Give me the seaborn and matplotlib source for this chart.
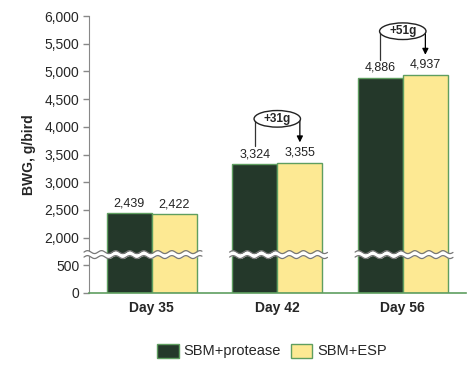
import numpy as np
import pandas as pd
import matplotlib
matplotlib.use("Agg")
import matplotlib.pyplot as plt
import seaborn as sns
from matplotlib.patches import Ellipse, Patch
from matplotlib.ticker import FuncFormatter

# =========================
# DATA
# =========================
days = ["Day 35", "Day 42", "Day 56"]
protease = [2439, 3324, 4886]
esp = [2422, 3355, 4937]
treatments = ["SBM+protease", "SBM+ESP"]
annotate_days = ["Day 42", "Day 56"]
y_ticks = [0, 500, 2000, 2500, 3000, 3500, 4000, 4500, 5000, 5500, 6000]

df = pd.DataFrame({
    "day": days * 2,
    "treatment": [treatments[0]] * 3 + [treatments[1]] * 3,
    "bwg": protease + esp,
})

dark = "#24382a"
yellow = "#fde993"
edge = "#5f9e60"

# =========================
# BROKEN AXIS SCALE (0-500 | 2000-6000)
# =========================
def fwd(v):
    v = np.asarray(v, dtype=float)
    return np.where(v <= 500, v / 500,
                    np.where(v <= 2000, 1 + (v - 500) / 1500, 2 + (v - 2000) / 500))

def inv(t):
    t = np.asarray(t, dtype=float)
    return np.where(t <= 1, t * 500,
                    np.where(t <= 2, 500 + (t - 1) * 1500, 2000 + (t - 2) * 500))

# =========================
# PLOT
# =========================
sns.set_style("white")
plt.rcParams["font.family"] = ["Liberation Sans", "DejaVu Sans"]

fig = plt.figure(figsize=(4.76, 3.66), dpi=100)
ax = fig.add_axes([0.187, 0.1995, 0.791, 0.7565])
ax.set_yscale("function", functions=(fwd, inv))

sns.barplot(data=df, x="day", y="bwg", hue="treatment", order=days,
            hue_order=treatments, palette=[dark, yellow], saturation=1,
            width=0.72, edgecolor=edge, linewidth=1, ax=ax, legend=False,
            zorder=2)

ax.set_ylim(0, 6000)
ax.set_xlim(-0.5, 2.5)
ax.set_yticks(y_ticks)
ax.yaxis.set_minor_locator(plt.NullLocator())
ax.yaxis.set_major_formatter(FuncFormatter(lambda v, p: f"{v:,.0f}"))
ax.tick_params(axis="y", left=True, length=4, width=1, color="#888888",
               labelsize=10, pad=3)
ax.tick_params(axis="x", bottom=False, labelsize=10, pad=2)
for lbl in ax.get_xticklabels():
    lbl.set_fontweight("bold")

sns.despine(ax=ax)
ax.spines["left"].set_color("#888888")
ax.spines["bottom"].set_color(edge)
ax.spines["bottom"].set_linewidth(1.2)

ax.set_xlabel("")
ax.set_ylabel("BWG, g/bird", fontsize=10, fontweight="bold", labelpad=6)

for cont in ax.containers:
    ax.bar_label(cont, labels=[f"{v:,.0f}" for v in cont.datavalues],
                 padding=3, fontsize=9, color="#222222")

# break marks (wavy white band)
def draw_break(x0, x1):
    xs = np.linspace(x0, x1, 200)
    wave = 80 * np.sin((xs - x0) / 0.112 * 2 * np.pi)
    lo = 1080 - 135 + wave
    hi = 1080 + 135 + wave
    ax.fill_between(xs, lo, hi, color="white", zorder=6, clip_on=False, lw=0)
    ax.plot(xs, lo, color="#777777", lw=0.9, zorder=7, clip_on=False)
    ax.plot(xs, hi, color="#777777", lw=0.9, zorder=7, clip_on=False)

draw_break(-0.54, 0.40)
draw_break(0.62, 1.40)
draw_break(1.62, 2.40)

# difference annotations
for day in annotate_days:
    i = days.index(day)
    a, b = protease[i], esp[i]
    ey = max(a, b) + 790
    xl, xr = i - 0.18, i + 0.18
    ax.plot([xl, xl], [a + 330, ey], color="#333333", lw=0.9, zorder=4)
    ax.annotate("", xy=(xr, b + 365), xytext=(xr, ey),
                arrowprops=dict(arrowstyle="-|>", color="black", lw=0.9,
                                mutation_scale=9, shrinkA=0, shrinkB=0),
                zorder=4)
    ax.add_patch(Ellipse((i, ey), 0.37, 300, facecolor="white",
                         edgecolor="#222222", lw=1, zorder=5))
    ax.text(i, ey, f"+{b - a}g", ha="center", va="center", fontsize=8.5,
            fontweight="bold", zorder=6)

handles = [Patch(facecolor=c, edgecolor=edge, lw=1) for c in [dark, yellow]]
fig.legend(handles, treatments, loc="center", bbox_to_anchor=(0.572, 0.041),
           ncol=2, frameon=False, fontsize=10.5, handlelength=1.45,
           handleheight=1.1, handletextpad=0.35, columnspacing=0.7)

fig.savefig("out.png", dpi=100, facecolor="white")
